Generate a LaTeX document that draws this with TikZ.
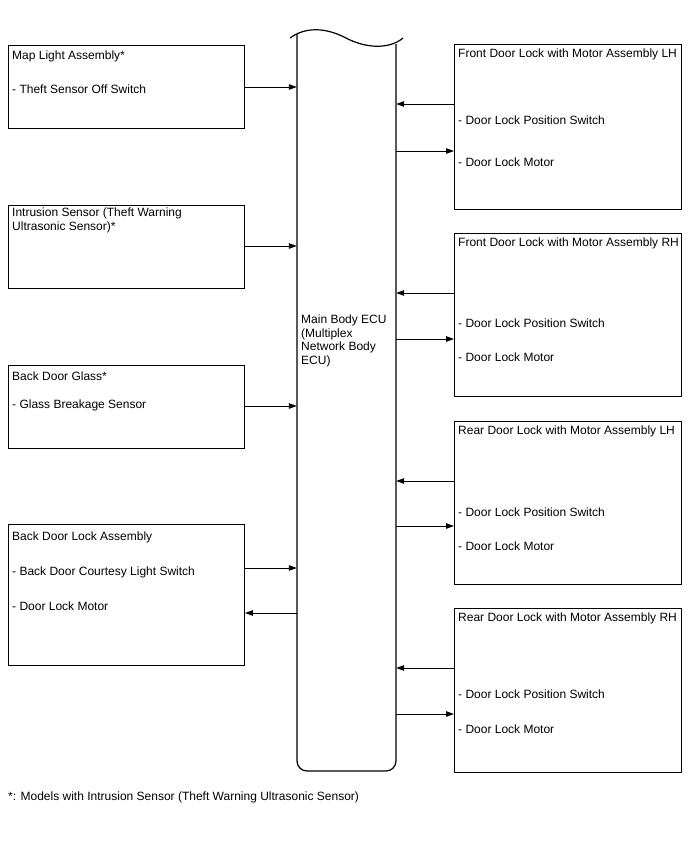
\documentclass[tikz,border=0pt]{standalone}
\usepackage{fontspec}
\setmainfont{Liberation Sans}
\usetikzlibrary{arrows.meta, positioning}

\begin{document}
\begin{tikzpicture}[
      x=1pt, y=-1pt,
      every node/.style={font=\fontsize{12}{13.5}\selectfont},
      blk/.style={draw, line width=0.9pt, anchor=north west, inner sep=0pt},
      txt/.style={anchor=west, inner sep=0pt, align=left},
      ar/.style={-{Triangle[length=8pt, width=5.5pt]}, line width=0.9pt}
    ]
    \useasboundingbox (0,0) rectangle (688,852);
    % ECU column
    \node[minimum width=99, minimum height=737, inner sep=0pt] (ecu) at (346.5,402) {};
    \draw[line width=1.2pt, rounded corners=10pt] (297,34) -- (297,771) -- (396,771) -- (396,44);
    \draw[line width=1.2pt] (290,38) .. controls (305,27) and (325,27) .. (346,38)
      .. controls (367,49) and (390,49) .. (403,38);
    \node[txt] (ecutxt) at (301,341) {Main Body ECU\\(Multiplex\\Network Body\\ECU)};

    % left side
    \node[blk, minimum width=236, minimum height=83] (maplight) at (8,45) {};
    \node[txt] (maplightT) at (12,56) {Map Light Assembly*};
    \node[txt] (theftsw) at (12,89) {- Theft Sensor Off Switch};

    \node[blk, minimum width=236, minimum height=83] (intrusion) at (8,205) {};
    \node[txt, anchor=north west] (intrusionT) at (12,208) {Intrusion Sensor (Theft Warning\\Ultrasonic Sensor)*};

    \node[blk, minimum width=236, minimum height=83] (bdglass) at (8,365) {};
    \node[txt] (bdglassT) at (12,376) {Back Door Glass*};
    \node[txt] (glassbrk) at (12,405) {- Glass Breakage Sensor};

    \node[blk, minimum width=236, minimum height=141] (bdlock) at (8,524) {};
    \node[txt] (bdlockT) at (12,537) {Back Door Lock Assembly};
    \node[txt] (courtesy) at (12,572) {- Back Door Courtesy Light Switch};
    \node[txt] (bdmotor) at (12,606) {- Door Lock Motor};

    % right side
    \node[blk, minimum width=227, minimum height=165] (frontlh) at (454,44) {};
    \node[txt] (frontlhT) at (458,54) {Front Door Lock with Motor Assembly LH};
    \node[txt] (flhpos) at (458,120) {- Door Lock Position Switch};
    \node[txt] (flhmotor) at (458,162) {- Door Lock Motor};

    \node[blk, minimum width=227, minimum height=163] (frontrh) at (454,233) {};
    \node[txt] (frontrhT) at (458,243) {Front Door Lock with Motor Assembly RH};
    \node[txt] (frhpos) at (458,323) {- Door Lock Position Switch};
    \node[txt] (frhmotor) at (458,357) {- Door Lock Motor};

    \node[blk, minimum width=227, minimum height=163] (rearlh) at (454,421) {};
    \node[txt] (rearlhT) at (458,431) {Rear Door Lock with Motor Assembly LH};
    \node[txt] (rlhpos) at (458,512) {- Door Lock Position Switch};
    \node[txt] (rlhmotor) at (458,546) {- Door Lock Motor};

    \node[blk, minimum width=227, minimum height=164] (rearrh) at (454,608) {};
    \node[txt] (rearrhT) at (458,618) {Rear Door Lock with Motor Assembly RH};
    \node[txt] (rrhpos) at (458,694) {- Door Lock Position Switch};
    \node[txt] (rrhmotor) at (458,729) {- Door Lock Motor};

    % arrows
    \draw[ar] (maplight.east |- 0,87) -- (ecu.west |- 0,87);
    \draw[ar] (intrusion.east |- 0,246) -- (ecu.west |- 0,246);
    \draw[ar] (bdglass.east |- 0,406) -- (ecu.west |- 0,406);
    \draw[ar] (bdlock.east |- 0,568) -- (ecu.west |- 0,568);
    \draw[ar] (ecu.west |- 0,613) -- (bdlock.east |- 0,613);

    \draw[ar] (frontlh.west |- 0,104) -- (ecu.east |- 0,104);
    \draw[ar] (ecu.east |- 0,151) -- (frontlh.west |- 0,151);
    \draw[ar] (frontrh.west |- 0,293) -- (ecu.east |- 0,293);
    \draw[ar] (ecu.east |- 0,339) -- (frontrh.west |- 0,339);
    \draw[ar] (rearlh.west |- 0,481) -- (ecu.east |- 0,481);
    \draw[ar] (ecu.east |- 0,526) -- (rearlh.west |- 0,526);
    \draw[ar] (rearrh.west |- 0,668) -- (ecu.east |- 0,668);
    \draw[ar] (ecu.east |- 0,714) -- (rearrh.west |- 0,714);

    \node[txt] (note) at (8,797) {*: Models with Intrusion Sensor (Theft Warning Ultrasonic Sensor)};
  \end{tikzpicture}
\end{document}
